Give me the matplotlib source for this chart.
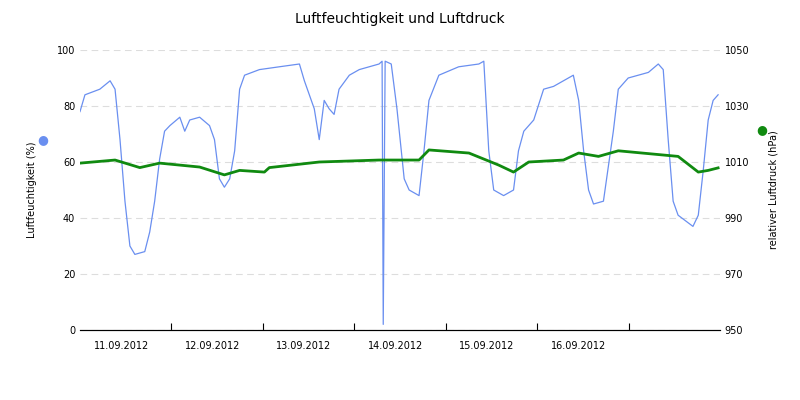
import matplotlib
matplotlib.use("Agg")
import matplotlib.pyplot as plt
import numpy as np

# humidity: hours since 11.09 00:00, %
hum_t = [0,1.3,5.2,7.9,9.2,10.5,11.8,13.1,14.4,17.0,18.3,19.6,20.9,22.2,23.6,26.2,27.5,28.8,31.4,34.0,35.3,36.6,37.9,39.3,40.6,41.9,43.2,47.1,52.3,57.6,58.9,61.5,62.8,64.1,65.4,66.7,68.0,70.7,73.3,78.5,79.3,79.6,80.1,81.7,83.2,85.1,86.4,89.0,90.3,91.6,94.2,99.4,104.7,106.0,107.3,108.6,111.2,113.8,115.1,116.5,119.1,121.7,124.3,126.9,129.5,130.9,132.2,133.5,134.8,137.4,140.0,141.3,143.9,149.2,151.8,153.1,154.4,155.7,157.0,160.9,162.3,163.6,164.9,166.2,167.5]
hum_v = [78,84,86,89,86,68,46,30,27,28,35,46,61,71,73,76,71,75,76,73,68,54,51,54,64,86,91,93,94,95,89,79,68,82,79,77,86,91,93,95,96,2,96,95,79,54,50,48,64,82,91,94,95,96,64,50,48,50,64,71,75,86,87,89,91,82,64,50,45,46,71,86,90,92,95,93,68,46,41,37,41,57,75,82,84]
# pressure: hours, hPa
pr_t = [0,9.2,15.7,20.9,31.4,37.9,41.9,48.4,49.7,62.8,78.5,89.0,91.6,102.1,109.9,113.8,117.8,126.9,130.9,136.1,141.3,157.0,162.3,164.9,167.5]
pr_v = [1009.6,1010.7,1008,1009.6,1008.2,1005.4,1007,1006.4,1008,1010,1010.7,1010.7,1014.3,1013.2,1008.9,1006.4,1010,1010.7,1013.2,1012,1014,1012,1006.4,1007,1007.9]
day_labels = ["11.09.2012","12.09.2012","13.09.2012","14.09.2012","15.09.2012","16.09.2012"]

fig = plt.figure(figsize=(8,4), dpi=100)
ax = fig.add_axes([0.1, 0.175, 0.8, 0.7])
ax2 = ax.twinx()
ax.plot(np.array(hum_t)/24, hum_v, color="#6a8ff0", lw=0.9)
ax2.plot(np.array(pr_t)/24, pr_v, color="#108a10", lw=2)
ax.set_xlim(0, 7)
ax.set_ylim(0, 100)
ax2.set_ylim(950, 1050)
ax.set_yticks(range(0, 101, 20))
ax2.set_yticks(range(950, 1051, 20))
ax.yaxis.grid(True, ls=(0,(6,4)), color="#dddddd", lw=0.8)
ax.set_xticks(range(1, 7))
ax.set_xticklabels([])
ax.set_xticks([i + 0.45 for i in range(6)], minor=True)
ax.set_xticklabels(day_labels, minor=True)
ax.tick_params(axis="x", which="minor", length=0, labelsize=7, pad=8)
ax.tick_params(axis="x", which="major", length=5, direction="in")
for a in (ax, ax2):
    a.tick_params(axis="y", labelsize=7, length=0)
    a.spines["top"].set_visible(False)
    a.spines["left"].set_visible(False)
    a.spines["right"].set_visible(False)
ax.spines["bottom"].set_color("#333333")
ax.set_ylabel("Luftfeuchtigkeit (%)", fontsize=7, labelpad=14)
ax2.set_ylabel("relativer Luftdruck (hPa)", fontsize=7, labelpad=14)
fig.text(0.053, 0.65, "●", color="#6a8ff0", fontsize=9, ha="center", va="center")
fig.text(0.952, 0.675, "●", color="#108a10", fontsize=9, ha="center", va="center")
fig.suptitle("Luftfeuchtigkeit und Luftdruck", fontsize=10, y=0.97)
fig.savefig("out.png")
